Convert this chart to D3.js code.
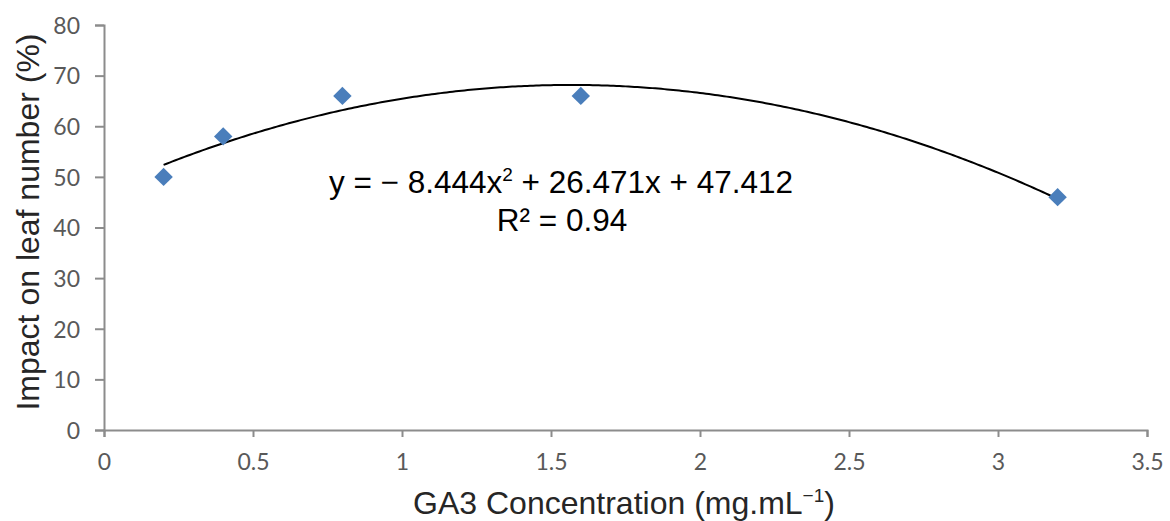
<!DOCTYPE html>
<html>
<head>
<meta charset="utf-8">
<script src="https://cdn.jsdelivr.net/npm/d3@7"></script>
<style>
  body { margin: 0; background: #fff; }
  svg text { font-family: "Liberation Sans", Arial, sans-serif; }
  .tick text { font-family: Lato, "Open Sans", sans-serif; fill: #595959; font-size: 23px; }
</style>
</head>
<body>
<svg id="chart" width="1170" height="521"></svg>
<script>
// data
var concentrations = [0.2, 0.4, 0.8, 1.6, 3.2];
var leafImpact = [50, 58, 66, 66, 46];
var trendCoef = [-8.444, 26.471, 47.412]; // a x^2 + b x + c, as printed on the chart
var xTicks = [0, 0.5, 1, 1.5, 2, 2.5, 3, 3.5];
var yTicks = [0, 10, 20, 30, 40, 50, 60, 70, 80];

var W = 1170, H = 521;
var MARGIN = {'top': 25, 'bottom': 91, 'left': 104, 'right': 23};

var svg = d3.select('#chart');

var xScale = d3.scaleLinear().domain([0, 3.5]).range([MARGIN.left, W - MARGIN.right]);
var yScale = d3.scaleLinear().domain([0, 80]).range([H - MARGIN.bottom, MARGIN.top]);

// axes
var gx = svg.append('g').attr('transform', 'translate(0,' + (H - MARGIN.bottom) + ')')
  .call(d3.axisBottom(xScale).tickValues(xTicks).tickFormat(d3.format('')).tickSizeOuter(0).tickSize(7).tickPadding(17));
var gy = svg.append('g').attr('transform', 'translate(' + MARGIN.left + ',0)')
  .call(d3.axisLeft(yScale).tickValues(yTicks).tickSizeOuter(0).tickSize(9).tickPadding(15));

[gx, gy].forEach(function(g) {
  g.select('.domain').attr('stroke', '#8c8c8c').attr('stroke-width', 2);
  g.selectAll('.tick line').attr('stroke', '#8c8c8c').attr('stroke-width', 2);
});
gy.selectAll('.tick text').attr('dy', '0.36em');

// trendline from the printed polynomial
var trendX = d3.range(0, 301).map(function(i) { return 0.2 + i * 0.01; });
var line = d3.line()
  .x(function(d) { return xScale(d); })
  .y(function(d) { return yScale(trendCoef[0] * d * d + trendCoef[1] * d + trendCoef[2]); });
svg.append('path').datum(trendX)
  .attr('d', line)
  .attr('fill', 'none')
  .attr('stroke', '#000')
  .attr('stroke-width', 2);

// diamond markers
var diamond = d3.symbol().type(d3.symbolSquare).size(170);
svg.append('g').selectAll('path')
  .data(concentrations)
  .join('path')
  .attr('d', diamond)
  .attr('transform', function(d, i) { return 'translate(' + xScale(d) + ',' + yScale(leafImpact[i]) + ') rotate(45)'; })
  .attr('fill', '#4a7ebb');

// equation label
var eq = svg.append('text').attr('x', 561).attr('y', 193).attr('text-anchor', 'middle')
  .style('font-size', '31.5px').attr('fill', '#000');
eq.append('tspan').text('y = \u2212 8.444x');
eq.append('tspan').text('2').style('font-size', '19px').attr('dy', -12);
eq.append('tspan').text(' + 26.471x + 47.412').attr('dy', 12);
svg.append('text').attr('x', 562).attr('y', 231).attr('text-anchor', 'middle')
  .style('font-size', '31.5px').attr('fill', '#000').text('R\u00b2 = 0.94');

// axis titles
var xt = svg.append('text').attr('x', 624).attr('y', 514).attr('text-anchor', 'middle')
  .style('font-size', '32px').attr('fill', '#262626');
xt.append('tspan').text('GA3 Concentration (mg.mL');
xt.append('tspan').text('\u22121').style('font-size', '19px').attr('dy', -12);
xt.append('tspan').text(')').attr('dy', 12);

svg.append('text')
  .attr('transform', 'translate(39,' + 222 + ') rotate(-90)')
  .attr('text-anchor', 'middle')
  .style('font-size', '32px').attr('fill', '#262626')
  .text('Impact on leaf number (%)');
</script>
</body>
</html>
